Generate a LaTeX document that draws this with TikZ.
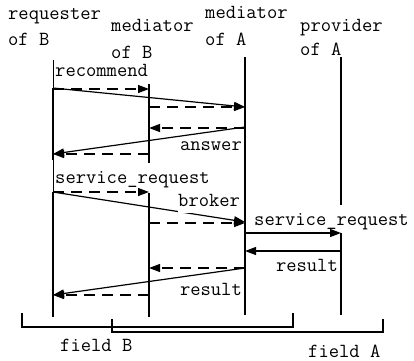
\documentclass[tikz,border=0pt]{standalone}
\usepackage{fontspec}
\usetikzlibrary{arrows.meta}
\begin{document}
\begin{tikzpicture}[x=1pt,y=-1pt,
  lbl/.style={font=\ttfamily\fontsize{20}{24}\selectfont, inner sep=0pt},
  lw/.style={lbl, anchor=base west},
  le/.style={lbl, anchor=base east},
  life/.style={line width=1.5pt},
  lifethin/.style={line width=0.7pt},
  msg/.style={line width=1.2pt, -{Triangle[length=11pt,width=8pt]}},
  dmsg/.style={msg, dash pattern=on 11pt off 7pt},
  brk/.style={line width=1.3pt}]
\useasboundingbox (0,0) rectangle (414,360);
% headers
\node[lw] (h1a) at (8,19) {requester};
\node[lw] (h1b) at (8,45) {of B};
\node[lw] (h2a) at (111,31) {mediator};
\node[lw] (h2b) at (111,58) {of B};
\node[lw] (h3a) at (205,18.5) {mediator};
\node[lw] (h3b) at (205,45) {of A};
\node[lw] (h4a) at (300,31) {provider};
\node[lw] (h4b) at (300,55) {of A};
% lifeline coordinates
\coordinate (rqT) at (53,60);
\coordinate (rq1) at (53,88);
\coordinate (rq2) at (53,160);
\coordinate (rq3) at (53,192);
\coordinate (rqB) at (53,317);
\coordinate (mbT1) at (149,84);
\coordinate (mbB1) at (149,163);
\coordinate (mbT2) at (149,193);
\coordinate (mbB2) at (149,317);
\coordinate (maT) at (245,57);
\coordinate (maB) at (245,315);
\coordinate (pvT) at (341,57);
\coordinate (pvG1) at (341,205);
\coordinate (pvG2) at (341,233);
\coordinate (pvB) at (341,315);
\draw[lifethin] (rqT) -- (rqB);
\draw[life] (rq1) -- (rq2);
\draw[life] (rq3) -- (rqB);
\draw[life] (mbT1) -- (mbB1);
\draw[life] (mbT2) -- (mbB2);
\draw[life] (maT) -- (maB);
\draw[life] (pvT) -- (pvG1);
\draw[life] (pvG2) -- (pvB);
% message endpoints
\coordinate (r1) at (53,88);   \coordinate (a1) at (245,107);
\coordinate (r1d) at (53,89);  \coordinate (b1d) at (149,89);
\coordinate (b1) at (149,107);
\coordinate (a2) at (245,127); \coordinate (r2) at (53,154);
\coordinate (a2d) at (245,128); \coordinate (b2d) at (149,128);
\coordinate (b2) at (149,154);
\coordinate (r3) at (53,192);  \coordinate (a3) at (245,222);
\coordinate (b3d) at (149,192);
\coordinate (b3) at (149,223); \coordinate (a3d) at (245,223);
\coordinate (a4) at (245,233); \coordinate (p4) at (341,233);
\coordinate (p5) at (341,251); \coordinate (a5) at (245,251);
\coordinate (a6) at (245,268); \coordinate (r6) at (53,295);
\coordinate (b6d) at (149,268);
\coordinate (b6) at (149,295);
% messages
\draw[msg] (r1) -- (a1);
\draw[dmsg] (r1d) -- (b1d);
\draw[dmsg] (b1) -- (a1);
\draw[msg] (a2) -- (r2);
\draw[dmsg] (a2d) -- (b2d);
\draw[dmsg] (b2) -- (r2);
\draw[msg] (r3) -- (a3);
\draw[dmsg] (r3) -- (b3d);
\draw[dmsg] (b3) -- (a3d);
\draw[msg] (a4) -- (p4);
\draw[msg] (p5) -- (a5);
\draw[msg] (a6) -- (r6);
\draw[dmsg] (a6) -- (b6d);
\draw[dmsg] (b6) -- (r6);
% labels
\node[lw] (l1) at (55,76) {recommend};
\node[le] (l2) at (242,150) {answer};
\node[lw] (l3) at (55,183) {service\_request};
\node[lw, fill=white, text depth=6pt] (l4) at (178,206.5) {broker};
\node[lw] (l5) at (254,225) {service\_request};
\node[le] (l6) at (338,271.5) {result};
\node[le] (l7) at (242,295) {result};
% fields
\coordinate (fb1) at (22,313); \coordinate (fb2) at (293,313);
\coordinate (fa1) at (112,319); \coordinate (fa2) at (383,319);
\draw[brk] (fb1) -- ++(0,14) -| (fb2);
\draw[brk] (fa1) -- ++(0,13) -| (fa2);
\node[lw] (fB) at (60,351.5) {field B};
\node[lw, text depth=0pt] (fA) at (308,357) {field A};
\end{tikzpicture}
\end{document}
